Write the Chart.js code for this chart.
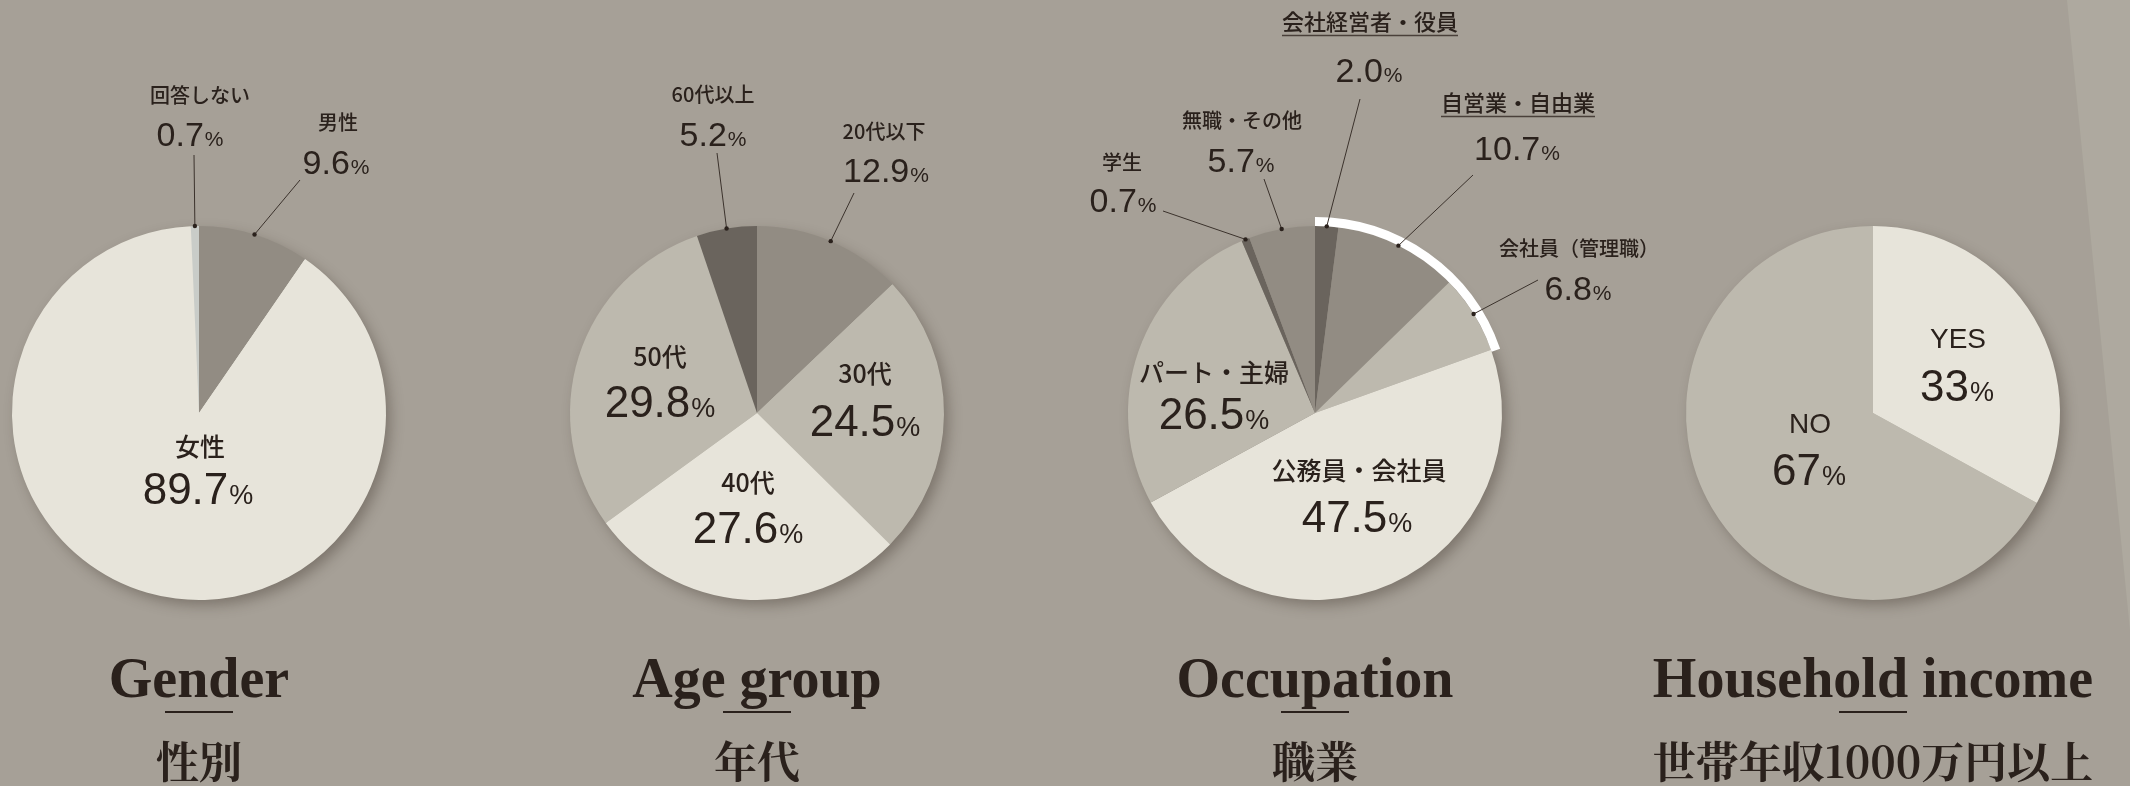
<!DOCTYPE html>
<html lang="ja">
<head>
<meta charset="utf-8">
<title>Survey profile</title>
<script src="https://cdn.jsdelivr.net/npm/chart.js@4.4.1/dist/chart.umd.min.js"></script>
<style>
  html, body { margin: 0; padding: 0; }
  body {
    width: 2130px; height: 786px; overflow: hidden; position: relative;
    background: #a6a097;
  }
  .paper {
    position: absolute; left: 0; top: 0; width: 2130px; height: 786px;
    background: #aea99f;
    clip-path: polygon(2067px 0, 2130px 0, 2130px 630px);
  }
  canvas { position: absolute; top: 0; }
  .title { position: absolute; top: 0; width: 640px; height: 786px; color: #2a211c; text-align: center; }
  .title .en {
    position: absolute; left: 0; right: 0; top: 650px;
    font-family: "Liberation Serif", "Times New Roman", serif; font-weight: 700;
    font-size: 56px; line-height: 56px;
  }
  .title .rule { position: absolute; top: 711px; left: 286px; width: 68px; height: 2px; background: #2a211c; }
  .title .ja {
    position: absolute; left: 0; right: 0; top: 738px;
    font-family: "Noto Serif CJK JP", "Noto Sans CJK JP", sans-serif; font-weight: 700;
    font-size: 43px; line-height: 44px;
  }
</style>
</head>
<body>
<div class="paper"></div>

<canvas id="gender" width="760" height="786" style="left:-181px"></canvas>
<canvas id="age" width="760" height="786" style="left:377px"></canvas>
<canvas id="job" width="760" height="786" style="left:935px"></canvas>
<canvas id="income" width="760" height="786" style="left:1493px"></canvas>

<div class="title" style="left:-121px"><div class="en">Gender</div><div class="rule"></div><div class="ja">性別</div></div>
<div class="title" style="left:437px"><div class="en">Age group</div><div class="rule"></div><div class="ja">年代</div></div>
<div class="title" style="left:995px"><div class="en">Occupation</div><div class="rule"></div><div class="ja">職業</div></div>
<div class="title" style="left:1553px"><div class="en">Household income</div><div class="rule"></div><div class="ja">世帯年収1000万円以上</div></div>

<script>
// datos de cada grafico (orden horario desde las 12)
const genderLabels = ["男性", "女性", "回答しない"];
const genderValues = [9.6, 89.7, 0.7];

const ageLabels = ["20代以下", "30代", "40代", "50代", "60代以上"];
const ageValues = [12.9, 24.5, 27.6, 29.8, 5.2];

const jobLabels = ["会社経営者・役員", "自営業・自由業", "会社員（管理職）", "公務員・会社員", "パート・主婦", "学生", "無職・その他"];
const jobValues = [2.0, 10.7, 6.8, 47.5, 26.5, 0.7, 5.7];

const incomeLabels = ["YES", "NO"];
const incomeValues = [33, 67];

// colores
const LIGHT = "#e7e4da", MID = "#bdb9ae", GRAY = "#928c83", DARK = "#6a645d", PALE = "#c9ccc8";
const INK = "#2a211c";

// posicion de las etiquetas, relativa al centro de la torta
// name / pct: centro del texto, line: fin de la linea guia (sin line = etiqueta interna)
const genderLayout = [
  { name: [139, -291], pct: [137, -251], line: [101, -233] },
  { name: [1, 33], pct: [-1, 75], inside: true },
  { name: [1, -318], pct: [-9, -279], line: [-5, -258] },
];
const ageLayout = [
  { name: [127, -282], pct: [129, -243], line: [97, -220] },
  { name: [108, -40], pct: [108, 7], inside: true },
  { name: [-9, 69], pct: [-9, 114], inside: true },
  { name: [-97, -57], pct: [-97, -12], inside: true },
  { name: [-44, -319], pct: [-44, -279], line: [-40, -260] },
];
const jobLayout = [
  { name: [55, -391], pct: [54, -343], line: [45, -314], underline: true },
  { name: [203, -310], pct: [202, -265], line: [158, -238], underline: true },
  { name: [264, -165], pct: [263, -125], line: [223, -133] },
  { name: [44, 57], pct: [42, 103], inside: true },
  { name: [-101, -41], pct: [-101, 0], inside: true },
  { name: [-193, -251], pct: [-192, -213], line: [-152, -202] },
  { name: [-73, -293], pct: [-74, -253], line: [-51, -234] },
];
const incomeLayout = [
  { name: [85, -73], pct: [84, -28], inside: true, latin: true },
  { name: [-63, 12], pct: [-64, 56], inside: true, latin: true },
];

const JP = "'Noto Sans CJK JP', sans-serif";
const NUM = "'Liberation Sans', Arial, sans-serif";

const drawPct = (ctx, text, cx, cy, size) => {
  const small = Math.round(size * 0.62);
  ctx.textAlign = "left";
  ctx.textBaseline = "alphabetic";
  ctx.font = `${size}px ${NUM}`;
  const w1 = ctx.measureText(text).width;
  ctx.font = `${small}px ${NUM}`;
  const w2 = ctx.measureText("%").width;
  const left = cx - (w1 + w2 + 1) / 2;
  const base = cy + size * 0.36;
  ctx.font = `${size}px ${NUM}`;
  ctx.fillText(text, left, base);
  ctx.font = `${small}px ${NUM}`;
  ctx.fillText("%", left + w1 + 1, base);
};

const pieDecor = {
  id: "pieDecor",
  beforeDatasetsDraw(chart, args, opts) {
    const first = chart.getDatasetMeta(0).data[0];
    if (!first) return;
    const { x, y, outerRadius } = first.getProps(["x", "y", "outerRadius"], true);
    const ctx = chart.ctx;
    ctx.save();
    ctx.shadowColor = "rgba(45, 35, 25, 0.35)";
    ctx.shadowBlur = 14;
    ctx.shadowOffsetX = 5;
    ctx.shadowOffsetY = 6;
    ctx.fillStyle = opts.base;
    ctx.beginPath();
    ctx.arc(x, y, outerRadius - 1, 0, Math.PI * 2);
    ctx.fill();
    ctx.restore();
  },
  afterDatasetsDraw(chart, args, opts) {
    const meta = chart.getDatasetMeta(0);
    const ctx = chart.ctx;
    const values = chart.data.datasets[0].data;
    const names = chart.data.labels;

    if (opts.highlight) {
      const a = meta.data[opts.highlight[0]].getProps(["x", "y", "startAngle", "outerRadius"], true);
      const b = meta.data[opts.highlight[1]].getProps(["endAngle"], true);
      ctx.save();
      ctx.strokeStyle = "#ffffff";
      ctx.lineWidth = 9;
      ctx.beginPath();
      ctx.arc(a.x, a.y, a.outerRadius + 4.5, a.startAngle, b.endAngle + 0.01);
      ctx.stroke();
      ctx.restore();
    }

    meta.data.forEach((el, i) => {
      const p = el.getProps(["x", "y", "startAngle", "endAngle", "outerRadius"], true);
      const lay = opts.layout[i];
      const mid = (p.startAngle + p.endAngle) / 2;
      ctx.save();
      ctx.fillStyle = INK;
      ctx.strokeStyle = "#3b322c";

      if (lay.line) {
        const sx = p.x + Math.cos(mid) * p.outerRadius;
        const sy = p.y + Math.sin(mid) * p.outerRadius;
        ctx.lineWidth = 1;
        ctx.beginPath();
        ctx.moveTo(sx, sy);
        ctx.lineTo(p.x + lay.line[0], p.y + lay.line[1]);
        ctx.stroke();
        ctx.beginPath();
        ctx.arc(sx, sy, 2.2, 0, Math.PI * 2);
        ctx.fill();
      }

      const nameSize = lay.inside ? (lay.latin ? 28 : 25) : (lay.underline ? 22 : 20);
      const pctSize = lay.inside ? 44 : 34;
      const nx = p.x + lay.name[0], ny = p.y + lay.name[1];
      ctx.font = lay.latin ? `${nameSize}px ${NUM}` : `500 ${nameSize}px ${JP}`;
      ctx.textAlign = "center";
      ctx.textBaseline = "middle";
      ctx.fillText(names[i], nx, ny);
      if (lay.underline) {
        const w = ctx.measureText(names[i]).width;
        ctx.lineWidth = 1.6;
        ctx.strokeStyle = "#4a403a";
        ctx.beginPath();
        ctx.moveTo(nx - w / 2, ny + 13.5);
        ctx.lineTo(nx + w / 2, ny + 13.5);
        ctx.stroke();
      }

      drawPct(ctx, values[i].toFixed(opts.decimals), p.x + lay.pct[0], p.y + lay.pct[1], pctSize);
      ctx.restore();
    });
  },
};

const makePie = (id, labels, values, colors, layout, decimals, highlight) => {
  const ctx = document.getElementById(id);
  return new Chart(ctx, {
    type: "pie",
    data: {
      labels: labels,
      datasets: [
        {
          data: values,
          backgroundColor: colors,
          borderWidth: 0,
          hoverOffset: 0,
        },
      ],
    },
    options: {
      responsive: false,
      animation: false,
      devicePixelRatio: 1,
      events: [],
      layout: { padding: { top: 226, bottom: 186, left: 193, right: 193 } },
      plugins: {
        legend: { display: false },
        tooltip: { enabled: false },
        pieDecor: { layout: layout, decimals: decimals, highlight: highlight, base: colors[1] },
      },
    },
    plugins: [pieDecor],
  });
};

makePie("gender", genderLabels, genderValues, [GRAY, LIGHT, PALE], genderLayout, 1, null);
makePie("age", ageLabels, ageValues, [GRAY, MID, LIGHT, MID, DARK], ageLayout, 1, null);
makePie("job", jobLabels, jobValues, [DARK, GRAY, MID, LIGHT, MID, DARK, GRAY], jobLayout, 1, [0, 2]);
makePie("income", incomeLabels, incomeValues, [LIGHT, MID], incomeLayout, 0, null);
</script>
</body>
</html>
